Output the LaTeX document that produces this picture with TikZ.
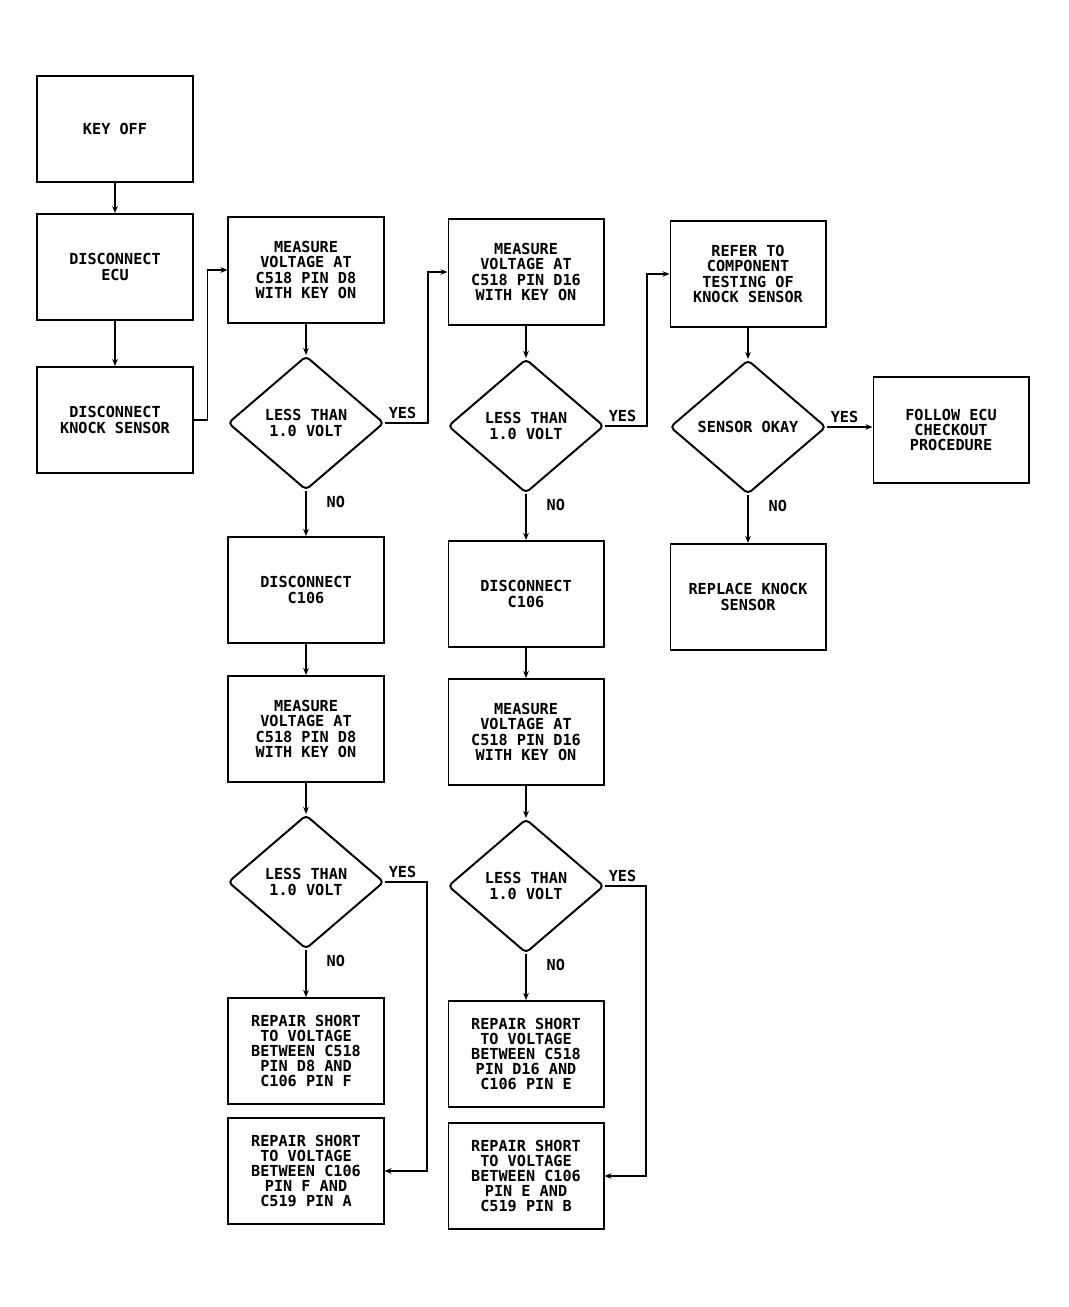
\documentclass[tikz,border=0pt]{standalone}
\usepackage{fontspec}
\setmonofont{DejaVu Sans Mono}
\usetikzlibrary{shapes.geometric,arrows.meta,positioning}

\begin{document}
\begin{tikzpicture}[x=0.025cm,y=-0.025cm,
    every node/.style={font=\ttfamily\bfseries\fontsize{10.8}{10.8}\selectfont},
    stepbox/.style={shape=rectangle,draw,line width=1.4pt,align=center,minimum width=3.875cm,minimum height=2.65cm},
    query/.style={shape=diamond,draw,line width=1.4pt,align=center,rounded corners=3pt,minimum width=3.9cm,minimum height=3.35cm,inner sep=0pt},
    flow/.style={line width=1.4pt,-{Stealth[length=5pt,width=4pt]}},
    answer/.style={inner sep=2pt}]
    \useasboundingbox (0,0) rectangle (1068,1307);
    \node[stepbox] (keyoff)  at (115,129)  {KEY OFF};
    \node[stepbox] (ecu)     at (115,267)  {DISCONNECT\\ECU};
    \node[stepbox] (knock)   at (115,420)  {DISCONNECT\\KNOCK SENSOR};
    \node[stepbox] (measA)   at (306,270)  {MEASURE\\VOLTAGE AT\\C518 PIN D8\\WITH KEY ON};
    \node[query]   (lessA)   at (306,423)  {LESS THAN\\1.0 VOLT};
    \node[stepbox] (discA)   at (306,590)  {DISCONNECT\\C106};
    \node[stepbox] (measC)   at (306,729)  {MEASURE\\VOLTAGE AT\\C518 PIN D8\\WITH KEY ON};
    \node[query]   (lessC)   at (306,882)  {LESS THAN\\1.0 VOLT};
    \node[stepbox] (repA)    at (306,1051) {REPAIR SHORT\\TO VOLTAGE\\BETWEEN C518\\PIN D8 AND\\C106 PIN F};
    \node[stepbox] (repB)    at (306,1171) {REPAIR SHORT\\TO VOLTAGE\\BETWEEN C106\\PIN F AND\\C519 PIN A};
    \node[stepbox] (measB)   at (526,272)  {MEASURE\\VOLTAGE AT\\C518 PIN D16\\WITH KEY ON};
    \node[query]   (lessB)   at (526,426)  {LESS THAN\\1.0 VOLT};
    \node[stepbox] (discB)   at (526,594)  {DISCONNECT\\C106};
    \node[stepbox] (measD)   at (526,732)  {MEASURE\\VOLTAGE AT\\C518 PIN D16\\WITH KEY ON};
    \node[query]   (lessD)   at (526,886)  {LESS THAN\\1.0 VOLT};
    \node[stepbox] (repC)    at (526,1054) {REPAIR SHORT\\TO VOLTAGE\\BETWEEN C518\\PIN D16 AND\\C106 PIN E};
    \node[stepbox] (repD)    at (526,1176) {REPAIR SHORT\\TO VOLTAGE\\BETWEEN C106\\PIN E AND\\C519 PIN B};
    \node[stepbox] (refer)   at (748,274)  {REFER TO\\COMPONENT\\TESTING OF\\KNOCK SENSOR};
    \node[query]   (okay)    at (748,427)  {SENSOR OKAY};
    \node[stepbox] (replace) at (748,597)  {REPLACE KNOCK\\SENSOR};
    \node[stepbox] (follow)  at (951,430)  {FOLLOW ECU\\CHECKOUT\\PROCEDURE};
    \draw[flow] (keyoff) -- (ecu);
    \draw[flow] (ecu) -- (knock);
    \draw[flow] (knock.east) -- ++(14,0) |- (measA.west);
    \draw[flow] (measA) -- (lessA);
    \draw[flow] (lessA.east) node[answer,above right] (yesA) {YES} -- ++(43,0) |- (measB.west);
    \draw[flow] (lessA.south) node[answer,below right=1pt and 12pt] (noA) {NO} -- (discA);
    \draw[flow] (discA) -- (measC);
    \draw[flow] (measC) -- (lessC);
    \draw[flow] (lessC.east) node[answer,above right] (yesC) {YES} -- ++(42,0) |- (repB.east);
    \draw[flow] (lessC.south) node[answer,below right=1pt and 12pt] (noC) {NO} -- (repA);
    \draw[flow] (measB) -- (lessB);
    \draw[flow] (lessB.east) node[answer,above right] (yesB) {YES} -- ++(42,0) |- (refer.west);
    \draw[flow] (lessB.south) node[answer,below right=1pt and 12pt] (noB) {NO} -- (discB);
    \draw[flow] (discB) -- (measD);
    \draw[flow] (measD) -- (lessD);
    \draw[flow] (lessD.east) node[answer,above right] (yesD) {YES} -- ++(41,0) |- (repD.east);
    \draw[flow] (lessD.south) node[answer,below right=1pt and 12pt] (noD) {NO} -- (repC);
    \draw[flow] (refer) -- (okay);
    \draw[flow] (okay.east) node[answer,above right] (yesE) {YES} -- (okay.east -| follow.west);
    \draw[flow] (okay.south) node[answer,below right=1pt and 12pt] (noE) {NO} -- (replace);
\end{tikzpicture}
\end{document}
